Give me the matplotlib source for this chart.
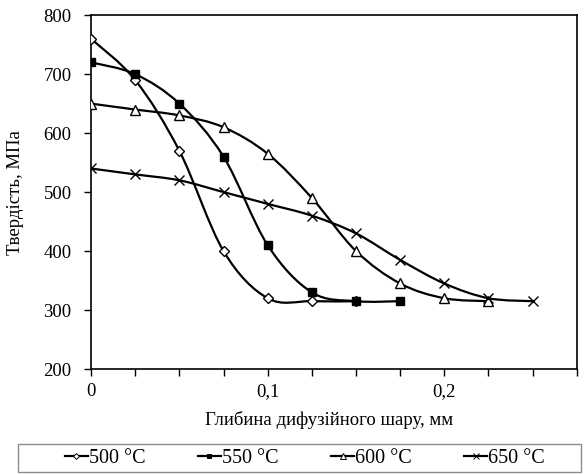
import numpy as np
import matplotlib
matplotlib.use('Agg')
import matplotlib.pyplot as plt
from matplotlib.path import Path
from matplotlib.patches import PathPatch, Rectangle
from matplotlib.ticker import MultipleLocator, FixedLocator, FuncFormatter

plt.rcParams['font.family'] = ['Liberation Serif', 'DejaVu Serif']

# depth, mm
depth = [0, 0.025, 0.05, 0.075, 0.1, 0.125, 0.15, 0.175, 0.2, 0.225, 0.25]

# hardness, MPa
h500 = [760, 690, 570, 400, 320, 315, 315]
h550 = [720, 700, 650, 560, 410, 330, 315, 315]
h600 = [650, 640, 630, 610, 565, 490, 400, 345, 320, 315]
h650 = [540, 530, 520, 500, 480, 460, 430, 385, 345, 320, 315]

labels = ['500 °C', '550 °C', '600 °C', '650 °C']
series = [h500, h550, h600, h650]
markers = ['D', 's', '^', 'x']
mfaces = ['white', 'black', 'white', 'none']
msizes = [5, 6, 6.5, 7]


def smooth_path(x, y):
    # Excel-style smoothed line (Catmull-Rom as cubic Bezier)
    p = np.column_stack([x, y]).astype(float)
    n = len(p)
    verts = [p[0]]
    codes = [Path.MOVETO]
    for i in range(n - 1):
        p0 = p[i - 1] if i > 0 else p[i]
        p3 = p[i + 2] if i + 2 < n else p[i + 1]
        c1 = p[i] + (p[i + 1] - p0) / 6
        c2 = p[i + 1] - (p3 - p[i]) / 6
        verts += [c1, c2, p[i + 1]]
        codes += [Path.CURVE4] * 3
    return Path(verts, codes)


fig = plt.figure(figsize=(5.85, 4.74), dpi=100)
ax = fig.add_axes([0.1556, 0.2215, 0.8304, 0.7465])

handles = []
for vals, lab, m, fc, ms in zip(series, labels, markers, mfaces, msizes):
    xs = depth[:len(vals)]
    ax.add_patch(PathPatch(smooth_path(xs, vals), facecolor='none',
                           edgecolor='black', lw=1.6, zorder=2))
    ax.plot(xs, vals, linestyle='none', marker=m, ms=ms, mfc=fc,
            mec='black', mew=1.0, zorder=3)
    h, = ax.plot([], [], color='black', lw=1.6, marker=m, ms=ms * 0.6,
                 mfc=fc, mec='black', mew=0.7, label=lab)
    handles.append(h)

ax.set_xlim(0, 0.275)
ax.set_ylim(200, 800)
ax.xaxis.set_major_locator(FixedLocator([0, 0.1, 0.2]))
ax.xaxis.set_minor_locator(MultipleLocator(0.025))
ax.xaxis.set_major_formatter(FuncFormatter(
    lambda v, pos: '0' if v == 0 else f'{v:.1f}'.replace('.', ',')))
ax.yaxis.set_major_locator(MultipleLocator(100))
ax.tick_params(axis='both', which='both', direction='out', length=5,
               width=1, labelsize=13.5, colors='black')
ax.tick_params(axis='x', pad=5)
ax.tick_params(axis='y', pad=9)
for s in ax.spines.values():
    s.set_linewidth(1.2)

ax.set_xlabel('Глибина дифузійного шару, мм', fontsize=13.5, va='center')
ax.xaxis.set_label_coords(0.49, -0.144)
ax.set_ylabel('Твердість, МПа', fontsize=13.5, va='center')
ax.yaxis.set_label_coords(-0.156, 0.5)

# legend box below the plot
fig.patches.append(Rectangle((18 / 585, 2 / 474), 563 / 585, 28 / 474,
                             transform=fig.transFigure, facecolor='white',
                             edgecolor='#8c8c8c', lw=1.0))
fig.legend(handles=handles, loc='center', ncol=4,
           bbox_to_anchor=(305 / 585, 16 / 474),
           fontsize=14.5, frameon=False,
           handlelength=1.15, handletextpad=0.05, columnspacing=2.6,
           borderaxespad=0, borderpad=0)

fig.savefig('out.png', dpi=100)
